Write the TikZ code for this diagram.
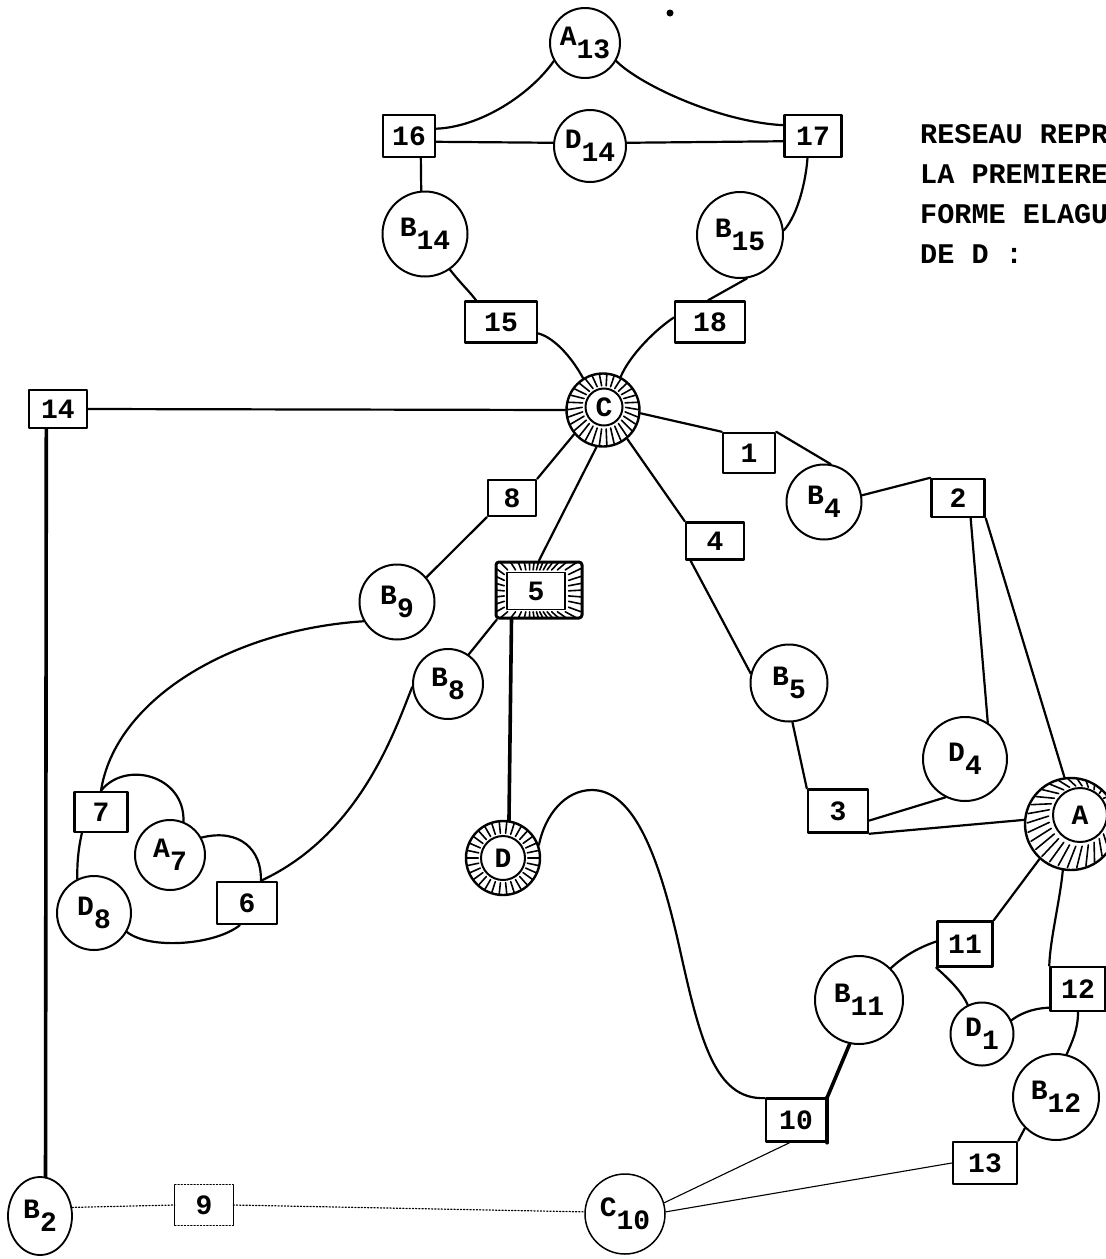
\documentclass[tikz,border=0pt]{standalone}
\usepackage{fontspec}
\setmainfont{Liberation Mono}
\usetikzlibrary{calc,shapes.geometric}
\newcommand\lsub[1]{\raisebox{-13pt}{#1}}
\newcommand\hatchring[3]{\foreach \a in {0,#3,...,359} \draw[tick] ($(#1.\a)!0.12!(#2.\a)$) -- ($(#1.\a)!0.88!(#2.\a)$);}
\tikzset{
 every node/.style={font=\fontsize{28}{32}\selectfont\bfseries},
 cir/.style={circle, draw, line width=2pt, inner sep=0pt, minimum size=#1},
 bx/.style n args={2}{draw, line width=2.5pt, inner sep=0pt, minimum width=#1, minimum height=#2},
 ln/.style={line width=2.2pt},
 thk/.style={line width=3.6pt},
 thn/.style={line width=1.1pt},
 dts/.style={line width=1.2pt, dotted},
 tick/.style={line width=1.6pt},
 txt/.style={anchor=base west, inner sep=0pt, font=\fontsize{28.5}{32}\selectfont\bfseries},
}
\begin{document}
\begin{tikzpicture}[x=1pt,y=-1pt,line cap=round,line join=round]
\useasboundingbox (0,0) rectangle (1106,1259);
\clip (0,0) rectangle (1106,1259);
\fill[white] (0,0) rectangle (1106,1259);

% ---------- nodes ----------
\node[cir=70pt] (A13) at (585,43) {A\lsub{13}};
\node[cir=72pt] (D14) at (590,146) {D\lsub{14}};
\node[bx={52pt}{42pt}] (n16) at (409,136) {16};
\node[bx={57pt}{42pt}] (n17) at (813,136) {17};
\node[cir=85pt] (B14) at (425,234) {B\lsub{14}};
\node[cir=86pt] (B15) at (740,235) {B\lsub{15}};
\node[bx={72pt}{41pt}] (n15) at (501,322) {15};
\node[bx={70pt}{41pt}] (n18) at (710,322) {18};

\node[cir=73pt, line width=2.4pt] (C) at (603,410) {};
\node[cir=37pt] (Cin) at (604,407) {C};
\hatchring{Cin}{C}{12}

\node[bx={58pt}{38pt}] (n14) at (58,409) {14};
\node[bx={52pt}{40pt}] (n1) at (749,453) {1};
\node[cir=75pt] (B4) at (824,502) {B\lsub4};
\node[bx={53pt}{38pt}] (n2) at (958,498) {2};
\node[bx={58pt}{37pt}] (n4) at (715,541) {4};
\node[bx={48pt}{36pt}] (n8) at (512,498) {8};
\node[cir=75pt] (B9) at (397,602) {B\lsub9};

\node[draw, line width=3pt, rounded corners=3pt, minimum width=86pt, minimum height=56pt, inner sep=0pt] (n5) at (539,590) {};
\node[draw, line width=1.8pt, minimum width=58pt, minimum height=37pt, inner sep=0pt] (n5in) at (536,591) {5\hspace{20pt}};
\foreach \a in {0,9,...,359} \draw[tick] ($(n5in.\a)!0.15!(n5.\a)$) -- ($(n5in.\a)!0.85!(n5.\a)$);

\node[cir=70pt] (B8) at (448,684) {B\lsub8};
\node[cir=77pt] (B5) at (789,683) {B\lsub5};
\node[cir=84pt] (D4) at (965,759) {D\lsub4};
\node[bx={60pt}{43pt}] (n3) at (838,811) {3};

\node[cir=92pt, line width=2.4pt] (A) at (1071,824) {};
\node[cir=54pt] (Ain) at (1080,815) {A};
\hatchring{Ain}{A}{12}

\node[bx={53pt}{40pt}] (n7) at (101,812) {7};
\node[cir=70pt] (A7) at (170,855) {A\lsub7};
\node[cir=74pt] (D8) at (94,913) {D\lsub8};
\node[bx={60pt}{42pt}] (n6) at (247,903) {6};

\node[cir=74pt, line width=2.4pt] (D) at (503,858) {};
\node[cir=44pt] (Din) at (503,858) {D};
\hatchring{Din}{D}{12}

\node[bx={55pt}{45pt}] (n11) at (965,944) {11};
\node[cir=88pt] (B11) at (859,1000) {B\lsub{11}};
\node[bx={55pt}{44pt}] (n12) at (1078,989) {12};
\node[cir=63pt] (D1) at (982,1034) {D\lsub1};
\node[cir=86pt] (B12) at (1056,1097) {B\lsub{12}};
\node[bx={64pt}{42pt}] (n13) at (985,1163) {13};
\node[bx={60pt}{43pt}] (n10) at (796,1120) {10};
\draw[thk] (n10.north east) -- (n10.south east);

\node[ellipse, draw, line width=1.8pt, inner sep=0pt, minimum width=64pt, minimum height=78pt] (B2) at (40,1216) {B\lsub2};
\node[inner sep=0pt, minimum width=58pt, minimum height=40pt] (n9) at (204,1205) {9};
\draw[dts] (n9.north west) -- (n9.north east) (n9.south west) -- (n9.south east);
\draw[thn] (n9.north west) -- (n9.south west) (n9.north east) -- (n9.south east);
\node[cir=80pt, line width=1.5pt] (C10) at (625,1214) {C\lsub{10}};

\fill (670,13) circle (3.5);

% ---------- text ----------
\node[txt] (t1) at (920,143) {RESEAU REPR};
\node[txt] (t2) at (920,183) {LA PREMIERE};
\node[txt] (t3) at (920,223) {FORME ELAGU};
\node[txt] (t4) at (920,263) {DE D :};

% ---------- connectors ----------
\draw[ln] (n16.15) .. controls (480,127) and (530,95) .. (A13.-150);
\draw[ln] (A13.-30) .. controls (640,85) and (720,122) .. (n17.160);
\draw[ln] (n16.-12) -- (D14.175);
\draw[ln] (D14.5) -- (n17.-170);
\draw[ln] (n16.-62) -- (B14.95);
\draw[ln] (n17.-104) .. controls (806,180) and (798,215) .. (B15.6);
\draw[ln] (B14.-55) .. controls (462,285) and (470,292) .. (n15.139);
\draw[ln] (B15.-81) -- (n18.95);
\draw[ln] (n15.-17) .. controls (555,338) and (572,358) .. (C.122);
\draw[ln] (n18.173) .. controls (655,330) and (630,355) .. (C.62);
\draw[ln] (n14.east) -- (C.west);
\draw[ln] (C.-5) -- (n1.north west);
\draw[ln] (n1.north east) -- (B4.80);
\draw[ln] (B4.10) -- (n2.north west);
\draw[ln] (C.-140) -- (n8.north east);
\draw[ln] (n8.south west) -- (B9.40);
\draw[ln] (C.-100) -- (n5.north);
\draw[ln] (C.-50) -- (n4.north west);
\draw[ln] (n4.-141) -- (B5.166);
\draw[ln] (n2.-58) -- (D4.58);
\draw[ln] (n2.south east) -- (A.98);
\draw[ln] (B5.-85) -- (n3.north west);
\draw[ln] (n3.-17) -- (D4.-117);
\draw[ln] (n3.south east) -- (A.175);
\draw[ln] (n5.-145) -- (B8.55);
\draw[thk] (n5.-133) -- (D.81);
\draw[ln] (B9.-150) .. controls (230,630) and (115,700) .. (n7.north);
\draw[ln] (B8.185) .. controls (395,730) and (360,835) .. (n6.58);
\draw[ln] (n7.north) .. controls (125,760) and (185,775) .. (A7.68);
\draw[ln] (A7.29) .. controls (240,828) and (262,850) .. (n6.58);
\draw[ln] (n7.-132) .. controls (78,850) and (77,865) .. (D8.116);
\draw[ln] (D8.-30) .. controls (150,950) and (215,945) .. (n6.-108);
\draw[thk] (n14.-120) -- (B2.82);
\draw[ln] (D.20) .. controls (545,815) and (565,790) .. (592,790)
   .. controls (635,790) and (660,860) .. (680,950)
   .. controls (700,1040) and (715,1100) .. (n10.145);
\draw[thk] (B11.-102) -- (n10.north east);
\draw[thn] (n10.-106) -- (C10.16);
\draw[thn] (n13.west) -- (C10.3);
\draw[ln] (B11.45) .. controls (905,955) and (920,947) .. (n11.175);
\draw[ln] (n11.south west) .. controls (950,980) and (962,992) .. (D1.116);
\draw[ln] (A.-132) -- (n11.north east);
\draw[ln] (A.-100) .. controls (1060,900) and (1050,940) .. (n12.north west);
\draw[ln] (D1.25) .. controls (1025,1010) and (1040,1008) .. (n12.-147);
\draw[ln] (n12.south) .. controls (1078,1030) and (1072,1042) .. (B12.76);
\draw[ln] (B12.-135) -- (n13.north east);
\draw[dts] (B2.15) -- (n9.west);
\draw[dts] (n9.east) -- (C10.177);
\end{tikzpicture}
\end{document}
